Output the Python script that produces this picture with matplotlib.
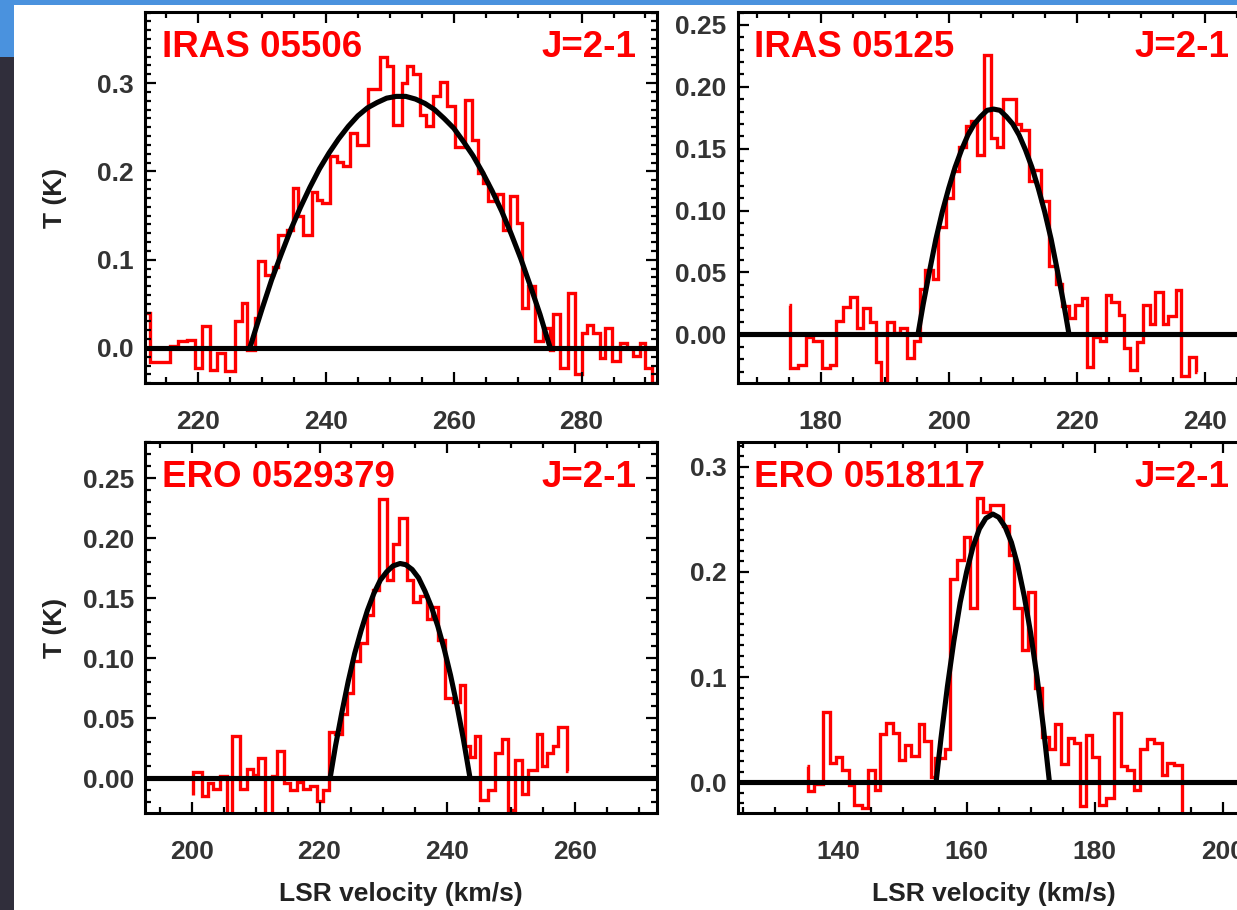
import matplotlib
matplotlib.use("Agg")
import matplotlib.pyplot as plt
from matplotlib.patches import Rectangle
from matplotlib.ticker import MultipleLocator, FormatStrFormatter

plt.rcParams['font.family'] = ['Liberation Sans', 'DejaVu Sans']
plt.rcParams['font.weight'] = 'bold'

# -----------------------------
# IRAS 05506 (top left)
# -----------------------------
tl_edges = [210.50, 212.48, 215.61, 216.92, 218.22, 219.53, 220.57, 221.87,
            222.92, 224.22, 225.78, 226.83, 227.61, 228.91, 229.44, 230.48,
            231.78, 232.57, 233.87, 234.91, 235.70, 236.48, 237.78, 238.56,
            239.35, 240.65, 241.70, 242.74, 243.78, 244.82, 246.65, 248.48,
            249.52, 250.56, 251.87, 252.65, 253.69, 254.74, 255.68, 256.82,
            257.87, 258.91, 260.21, 261.78, 262.82, 263.86, 264.65, 265.43,
            266.73, 267.78, 268.82, 269.86, 270.65, 271.69, 272.73, 274.04,
            275.08, 275.60, 276.65, 277.95, 278.99, 280.04, 280.82, 281.86,
            282.90, 283.69, 284.73, 286.04, 287.08, 288.12, 289.17, 289.95,
            290.99, 292.50]
tl_temp = [0.040, -0.016, 0.002, 0.008, 0.009, -0.023, 0.025, -0.025,
           -0.006, -0.026, 0.030, 0.051, -0.002, 0.034, 0.098, 0.083,
           0.092, 0.128, 0.134, 0.181, 0.149, 0.128, 0.177, 0.168,
           0.164, 0.217, 0.211, 0.206, 0.243, 0.230, 0.293, 0.330,
           0.319, 0.253, 0.300, 0.319, 0.310, 0.264, 0.252, 0.285,
           0.301, 0.274, 0.228, 0.281, 0.236, 0.198, 0.187, 0.166,
           0.174, 0.134, 0.172, 0.142, 0.045, 0.070, 0.008, 0.023,
           -0.002, 0.038, -0.023, 0.062, -0.030, 0.017, 0.026, 0.017,
           -0.011, 0.023, -0.015, 0.006, 0.000, -0.009, 0.006, -0.023,
           -0.045]
tl_fit_v = [228.1, 229.0, 230.0, 231.5, 233.0, 234.5, 236.0, 237.5, 239.0,
            240.5, 242.0, 243.5, 245.0, 246.5, 248.0, 249.5, 251.0, 252.5,
            254.0, 255.5, 257.0, 258.5, 260.0, 261.5, 263.0, 264.5, 266.0,
            267.5, 269.0, 270.5, 272.0, 273.5, 274.5, 275.1]
tl_fit_t = [0.000, 0.021, 0.044, 0.077, 0.106, 0.134, 0.159, 0.182, 0.203,
            0.221, 0.237, 0.251, 0.263, 0.272, 0.278, 0.283, 0.285, 0.285,
            0.282, 0.277, 0.270, 0.260, 0.249, 0.234, 0.218, 0.199, 0.178,
            0.155, 0.129, 0.101, 0.070, 0.038, 0.014, 0.000]

# -----------------------------
# IRAS 05125 (top right)
# -----------------------------
tr_edges = [175.10, 175.21, 176.53, 177.68, 178.83, 180.27, 181.42, 182.46,
            183.43, 184.58, 185.74, 186.60, 187.75, 188.61, 189.47, 190.34,
            191.49, 192.35, 193.50, 194.65, 195.51, 196.37, 197.52, 198.39,
            199.54, 200.69, 201.55, 202.70, 203.56, 204.42, 205.57, 206.55,
            207.59, 208.56, 210.46, 211.32, 212.47, 213.34, 214.49, 215.64,
            216.79, 217.65, 218.80, 219.66, 220.81, 221.67, 222.54, 223.69,
            224.55, 225.41, 226.56, 227.42, 228.29, 229.44, 230.30, 231.45,
            232.31, 233.46, 234.33, 235.48, 236.34, 237.49, 238.64, 238.75]
tr_temp = [0.024, -0.027, -0.025, -0.002, -0.005, -0.027, -0.025, 0.011,
           0.022, 0.030, 0.005, 0.021, 0.010, -0.022, -0.045, 0.010,
           0.001, 0.005, -0.019, -0.005, 0.037, 0.052, 0.045, 0.087,
           0.110, 0.132, 0.151, 0.168, 0.172, 0.145, 0.226, 0.159,
           0.151, 0.190, 0.170, 0.165, 0.124, 0.133, 0.108, 0.055,
           0.041, 0.023, 0.013, 0.024, 0.029, -0.026, -0.002, -0.005,
           0.032, 0.026, 0.016, -0.011, -0.029, -0.006, 0.024, 0.008,
           0.034, 0.008, 0.015, 0.036, -0.034, -0.018, -0.030]
tr_fit_v = [195.2, 196.0, 197.0, 198.0, 199.0, 200.0, 201.0, 202.0, 203.0,
            204.0, 205.0, 206.0, 207.0, 208.0, 209.0, 210.0, 211.0, 212.0,
            213.0, 214.0, 215.0, 216.0, 217.0, 218.0, 218.8]
tr_fit_t = [0.000, 0.024, 0.051, 0.077, 0.099, 0.118, 0.135, 0.149, 0.161,
            0.170, 0.176, 0.181, 0.182, 0.181, 0.176, 0.170, 0.161, 0.149,
            0.135, 0.118, 0.099, 0.077, 0.051, 0.024, 0.000]

# -----------------------------
# ERO 0529379 (bottom left)
# -----------------------------
bl_edges = [200.15, 200.26, 201.57, 202.61, 203.39, 204.44, 205.58, 206.26,
            207.57, 208.61, 209.65, 210.44, 211.48, 212.52, 213.31, 214.45,
            215.39, 216.44, 217.48, 218.52, 219.56, 220.61, 221.55, 222.43,
            223.48, 224.36, 225.30, 226.35, 227.39, 228.43, 229.37, 230.52,
            231.56, 232.50, 233.65, 234.59, 235.74, 236.78, 237.56, 238.50,
            239.65, 240.95, 242.00, 242.78, 243.56, 244.34, 245.13, 246.43,
            247.47, 248.52, 249.56, 250.60, 251.65, 252.69, 253.99, 254.78,
            255.56, 256.60, 257.38, 258.69, 258.80]
bl_temp = [-0.014, 0.005, -0.015, -0.004, -0.009, 0.002, -0.045, 0.035,
           -0.009, 0.008, 0.003, 0.017, -0.045, 0.002, 0.023, -0.004,
           -0.010, -0.003, -0.009, -0.006, -0.019, -0.010, 0.039, 0.037,
           0.054, 0.071, 0.098, 0.113, 0.136, 0.157, 0.233, 0.165,
           0.195, 0.217, 0.165, 0.147, 0.152, 0.133, 0.143, 0.115,
           0.067, 0.064, 0.078, 0.027, 0.018, 0.035, -0.018, -0.010,
           0.021, 0.033, -0.026, 0.015, -0.013, 0.007, 0.037, 0.010,
           0.021, 0.027, 0.043, 0.006]
bl_fit_v = [221.65, 222.5, 223.5, 224.5, 225.5, 226.5, 227.5, 228.5, 229.5,
            230.5, 231.5, 232.6, 233.5, 234.5, 235.5, 236.5, 237.5, 238.5,
            239.5, 240.5, 241.5, 242.5, 243.56]
bl_fit_t = [0.000, 0.027, 0.055, 0.081, 0.104, 0.123, 0.140, 0.154, 0.165,
            0.172, 0.177, 0.179, 0.178, 0.174, 0.167, 0.156, 0.143, 0.127,
            0.108, 0.086, 0.061, 0.033, 0.000]

# -----------------------------
# ERO 0518117 (bottom right)
# -----------------------------
br_edges = [134.99, 135.27, 136.14, 137.57, 138.72, 139.59, 140.56, 141.60,
            142.46, 143.61, 144.65, 145.62, 146.49, 147.35, 148.50, 149.48,
            150.40, 151.37, 152.52, 153.27, 154.42, 155.00, 156.55, 157.41,
            158.45, 159.60, 160.57, 161.55, 162.59, 163.62, 165.75, 166.61,
            167.48, 168.63, 169.66, 170.64, 171.79, 172.83, 173.80, 174.78,
            175.82, 176.80, 177.66, 178.69, 179.55, 180.70, 181.85, 183.00,
            184.15, 185.01, 186.16, 187.02, 188.17, 189.32, 190.47, 191.33,
            192.48, 193.63, 193.75]
br_temp = [0.015, -0.008, -0.002, 0.067, 0.018, 0.024, 0.012, -0.003,
           -0.022, -0.025, 0.012, -0.007, 0.046, 0.056, 0.047, 0.021,
           0.035, 0.025, 0.055, 0.039, 0.005, 0.023, 0.032, 0.193,
           0.211, 0.233, 0.166, 0.270, 0.257, 0.264, 0.244, 0.216,
           0.166, 0.126, 0.181, 0.090, 0.043, 0.032, 0.055, 0.017,
           0.042, 0.037, -0.023, 0.045, 0.024, -0.022, -0.015, 0.066,
           0.015, 0.012, -0.007, 0.032, 0.041, 0.037, 0.007, 0.018,
           0.016, -0.040]
br_fit_v = [155.23, 156.0, 157.0, 158.0, 159.0, 160.0, 161.0, 162.0, 163.0,
            164.1, 165.0, 166.0, 167.0, 168.0, 169.0, 170.0, 171.0, 172.0, 172.94]
br_fit_t = [0.000, 0.042, 0.091, 0.134, 0.171, 0.200, 0.224, 0.241, 0.251,
            0.255, 0.252, 0.243, 0.228, 0.206, 0.177, 0.142, 0.100, 0.052, 0.000]

names = ["IRAS 05506", "IRAS 05125", "ERO 0529379", "ERO 0518117"]
line_label = "J=2-1"

W, H = 1237, 910
fig = plt.figure(figsize=(W / 100, H / 100), dpi=100)

# screenshot frame
fig.add_artist(Rectangle((0, 1 - 5 / H), 1, 5 / H, transform=fig.transFigure,
                         color='#4a92de', lw=0))
fig.add_artist(Rectangle((0, 1 - 57 / H), 14 / W, 57 / H, transform=fig.transFigure,
                         color='#4a92de', lw=0))
fig.add_artist(Rectangle((0, 0), 14 / W, 1 - 57 / H, transform=fig.transFigure,
                         color='#302e3b', lw=0))

panels = [
    # rect, edges, temp, fit v, fit t, xlim, ylim, y major, y format
    ([145 / W, 0.5788, 512 / W, 0.4084], tl_edges, tl_temp, tl_fit_v, tl_fit_t,
     (211.7, 291.8), (-0.040, 0.381), 0.1, '%.1f'),
    ([737.5 / W, 0.5788, 512 / W, 0.4084], tr_edges, tr_temp, tr_fit_v, tr_fit_t,
     (167.0, 247.0), (-0.0395, 0.2607), 0.05, '%.2f'),
    ([145 / W, 0.1063, 512 / W, 0.4084], bl_edges, bl_temp, bl_fit_v, bl_fit_t,
     (192.7, 272.8), (-0.029, 0.2805), 0.05, '%.2f'),
    ([737.5 / W, 0.1063, 512 / W, 0.4084], br_edges, br_temp, br_fit_v, br_fit_t,
     (124.2, 204.2), (-0.0296, 0.3239), 0.1, '%.1f'),
]

for i, (rect, edges, temp, fv, ft, xl, yl, ymaj, yfmt) in enumerate(panels):
    ax = fig.add_axes(rect)
    ax.stairs(temp, edges, baseline=None, color='red', lw=2.4, joinstyle='miter')
    ax.axhline(0, color='black', lw=3.7)
    ax.plot(fv, ft, color='black', lw=3.7, solid_capstyle='butt',
            solid_joinstyle='round')
    ax.set_xlim(xl)
    ax.set_ylim(yl)

    ax.xaxis.set_major_locator(MultipleLocator(20))
    ax.xaxis.set_minor_locator(MultipleLocator(5))
    ax.yaxis.set_major_locator(MultipleLocator(ymaj))
    ax.yaxis.set_minor_locator(MultipleLocator(0.01))
    ax.yaxis.set_major_formatter(FormatStrFormatter(yfmt))

    ax.tick_params(which='both', direction='in', top=True, right=True,
                   width=1.6, color='black', labelcolor='#333333', labelsize=19)
    ax.tick_params(which='major', length=8)
    ax.tick_params(which='minor', length=4)
    ax.tick_params(axis='x', pad=19)
    ax.tick_params(axis='y', pad=8)
    for s in ax.spines.values():
        s.set_linewidth(2.2)

    ax.text(0.033, 0.879, names[i], transform=ax.transAxes, color='red',
            fontsize=26.5, fontweight='bold', ha='left', va='baseline')
    ax.text(0.960, 0.879, line_label, transform=ax.transAxes, color='red',
            fontsize=26.5, fontweight='bold', ha='right', va='baseline')

# axis titles
for yc in (197.5, 627.5):
    fig.text(55 / W, 1 - yc / H, "T (K)", rotation=90, ha='center', va='center',
             fontsize=19, fontweight='bold', color='#222222')
for xc in (401, 994):
    fig.text(xc / W, 1 - 894 / H, "LSR velocity (km/s)", ha='center', va='center',
             fontsize=19, fontweight='bold', color='#222222')

fig.savefig("out.png", dpi=100)
